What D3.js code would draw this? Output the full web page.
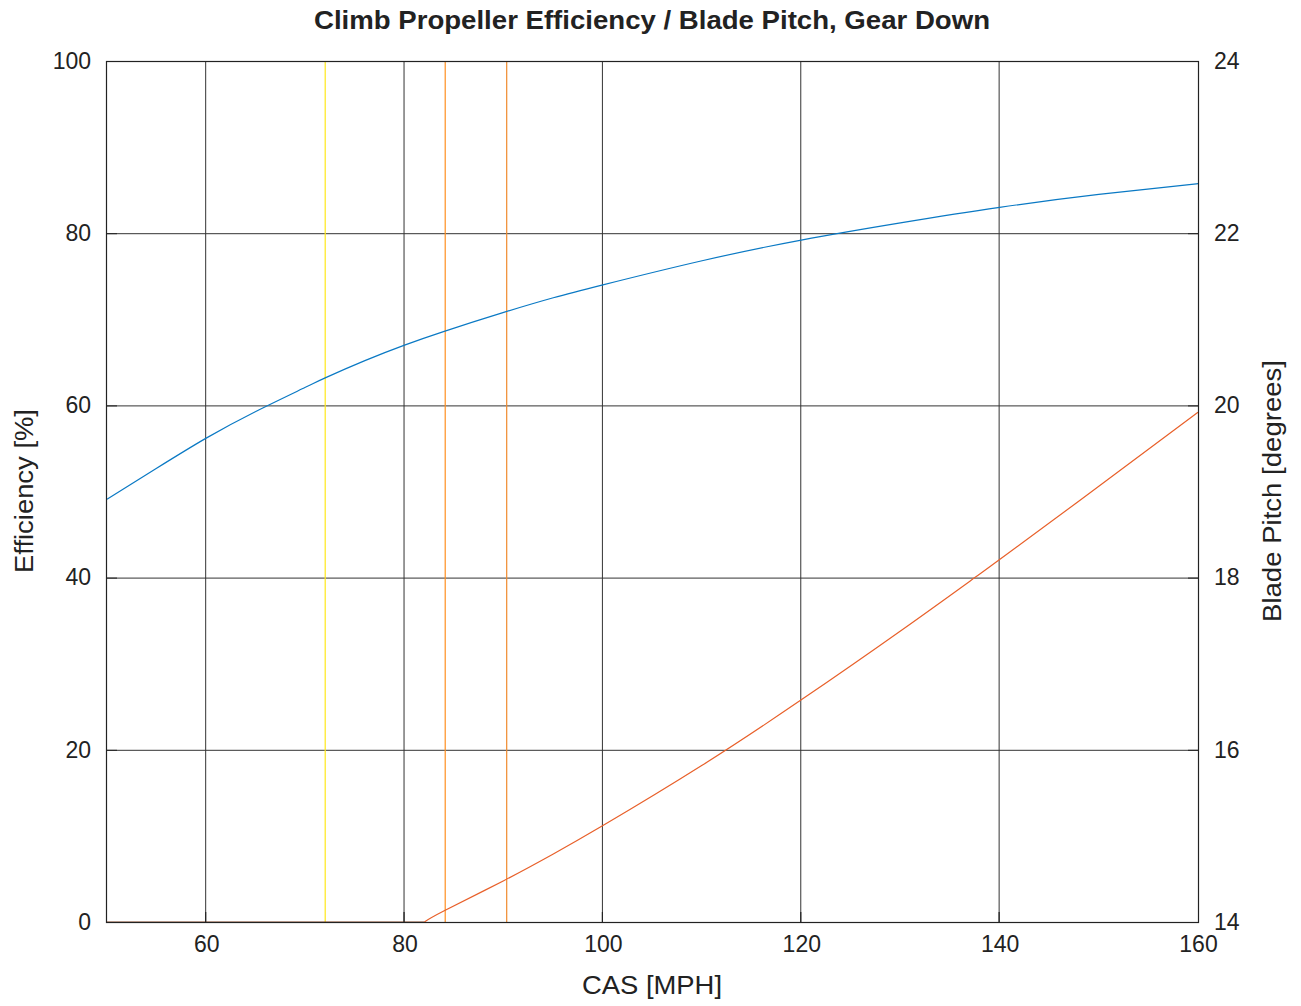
<!DOCTYPE html>
<html>
<head>
<meta charset="utf-8">
<script src="https://cdn.jsdelivr.net/npm/d3@7"></script>
<style>
  body { margin: 0; background: #fff; }
  text { font-family: "Liberation Sans", Arial, sans-serif; fill: #222; }
</style>
</head>
<body>
<svg id="chart" width="1301" height="1006"></svg>
<script>
// CAS in MPH
var speedMph = [50, 55, 60, 65, 70, 72, 76, 80, 84, 90, 95, 100, 110, 120, 130, 140, 150, 160];
// propeller efficiency (%), left axis
var efficiency = [49.1, 52.7, 56.2, 59.3, 62.1, 63.2, 65.2, 67.0, 68.6, 70.8, 72.5, 74.0, 76.8, 79.2, 81.2, 83.0, 84.5, 85.75];

// blade pitch (deg), right axis -- stays at the 14 deg stop up to ~82 mph
var pitchMph = [50, 82, 84, 90, 95, 100, 110, 120, 130, 137.5, 140, 150, 160];
var bladePitch = [14, 14, 14.13, 14.48, 14.79, 15.12, 15.82, 16.58, 17.38, 18.0, 18.21, 19.06, 19.92];

// reference speeds (vertical markers)
var markerSpeeds = [72, 84.1, 90.3];
var markerColors = ["#ffe81a", "#ff8f1f", "#f08a2c"];

var xTicks = [60, 80, 100, 120, 140, 160];
var yTicks = [0, 20, 40, 60, 80, 100];
var y2Ticks = [14, 16, 18, 20, 22, 24];

var svg = d3.select("#chart");
var pLeft = 107, pRight = 1198, pTop = 61, pBottom = 922;

var x = d3.scaleLinear().domain([50, 160]).range([pLeft, pRight]);
var y = d3.scaleLinear().domain([0, 100]).range([pBottom, pTop]);
var y2 = d3.scaleLinear().domain([14, 24]).range([pBottom, pTop]);

// grid
svg.append("g").selectAll("line").data(xTicks.slice(0, -1))
  .enter().append("line")
  .attr("x1", d => x(d) - 0.5).attr("x2", d => x(d) - 0.5)
  .attr("y1", pTop).attr("y2", pBottom)
  .attr("stroke", "#333").attr("stroke-width", 1);
svg.append("g").selectAll("line").data(yTicks.slice(1, -1))
  .enter().append("line")
  .attr("x1", pLeft).attr("x2", pRight)
  .attr("y1", d => y(d) + 0.5).attr("y2", d => y(d) + 0.5)
  .attr("stroke", "#333").attr("stroke-width", 1);

// marker lines
svg.append("g").selectAll("line").data(markerSpeeds)
  .enter().append("line")
  .attr("x1", d => x(d)).attr("x2", d => x(d))
  .attr("y1", pTop).attr("y2", pBottom)
  .attr("stroke", (d, i) => markerColors[i]).attr("stroke-width", 1.2);

// curves
var effLine = d3.line().x((d, i) => x(speedMph[i])).y(d => y(d)).curve(d3.curveNatural);
svg.append("path").datum(efficiency)
  .attr("d", effLine).attr("fill", "none")
  .attr("stroke", "#0a79c4").attr("stroke-width", 1.2);

// flat part on the stop, then the rising part
var pitchPts = pitchMph.map((v, i) => [v, bladePitch[i]]);
var flatPts = pitchPts.filter(p => p[1] <= 14);
var risePts = pitchPts.filter(p => p[0] >= flatPts[flatPts.length - 1][0]);

svg.append("path").datum(flatPts)
  .attr("d", d3.line().x(d => x(d[0])).y(d => y2(d[1])))
  .attr("fill", "none").attr("stroke", "#8a4a2a").attr("stroke-width", 1.2);

svg.append("path").datum(risePts)
  .attr("d", d3.line().x(d => x(d[0])).y(d => y2(d[1])).curve(d3.curveNatural))
  .attr("fill", "none").attr("stroke", "#e8602a").attr("stroke-width", 1.2);

// frame
svg.append("rect").attr("x", pLeft - 0.5).attr("y", pTop + 0.5)
  .attr("width", pRight - pLeft + 1).attr("height", pBottom - pTop)
  .attr("fill", "none").attr("stroke", "#222").attr("stroke-width", 1.2);

// axes
var xAxis = d3.axisBottom(x).tickValues(xTicks).tickSize(0).tickPadding(14);
var gx = svg.append("g").attr("transform", "translate(0," + pBottom + ")").call(xAxis);
gx.select(".domain").remove();
gx.selectAll("text").attr("font-size", 23).style("font-family", "Liberation Sans").attr("fill", "#222");

var yAxis = d3.axisLeft(y).tickValues(yTicks).tickSize(-10).tickPadding(16);
var gy = svg.append("g").attr("transform", "translate(" + pLeft + ",0)").call(yAxis);
gy.select(".domain").remove();
gy.selectAll("line").attr("stroke", "#222");
gy.selectAll("text").attr("font-size", 23).style("font-family", "Liberation Sans").attr("fill", "#222");

var y2Axis = d3.axisRight(y2).tickValues(y2Ticks).tickSize(-10).tickPadding(16);
var gy2 = svg.append("g").attr("transform", "translate(" + pRight + ",0)").call(y2Axis);
gy2.select(".domain").remove();
gy2.selectAll("line").attr("stroke", "#222");
gy2.selectAll("text").attr("font-size", 23).style("font-family", "Liberation Sans").attr("fill", "#222");

// x tick marks along the bottom
svg.append("g").selectAll("line").data(xTicks.slice(0, -1))
  .enter().append("line")
  .attr("x1", d => x(d) - 0.5).attr("x2", d => x(d) - 0.5)
  .attr("y1", pBottom).attr("y2", pBottom - 10)
  .attr("stroke", "#222").attr("stroke-width", 1.2);

// titles
svg.append("text").attr("x", 652).attr("y", 29)
  .attr("text-anchor", "middle").attr("font-size", 25).attr("font-weight", "bold")
  .attr("fill", "#000")
  .attr("textLength", 676).attr("lengthAdjust", "spacingAndGlyphs")
  .text("Climb Propeller Efficiency / Blade Pitch, Gear Down");

svg.append("text").attr("x", 652).attr("y", 994)
  .attr("text-anchor", "middle").attr("font-size", 26)
  .attr("fill", "#333")
  .attr("textLength", 140).attr("lengthAdjust", "spacingAndGlyphs")
  .text("CAS [MPH]");

svg.append("text")
  .attr("transform", "translate(33,491) rotate(-90)")
  .attr("text-anchor", "middle").attr("font-size", 26).attr("fill", "#222")
  .attr("textLength", 164).attr("lengthAdjust", "spacingAndGlyphs")
  .text("Efficiency [%]");

svg.append("text")
  .attr("transform", "translate(1281,491) rotate(-90)")
  .attr("text-anchor", "middle").attr("font-size", 26).attr("fill", "#222")
  .attr("textLength", 262).attr("lengthAdjust", "spacingAndGlyphs")
  .text("Blade Pitch [degrees]");
</script>
</body>
</html>
